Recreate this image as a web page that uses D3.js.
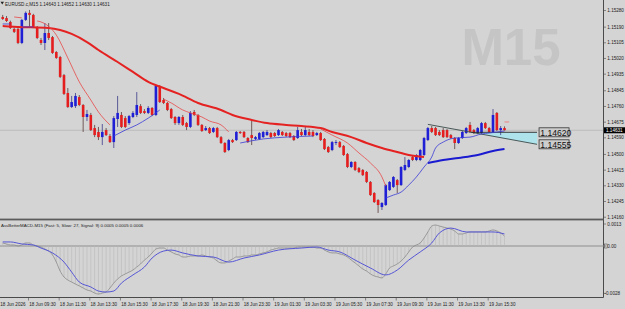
<!DOCTYPE html>
<html><head><meta charset="utf-8">
<script src="https://cdn.jsdelivr.net/npm/d3@7"></script>
<style>html,body{margin:0;padding:0;background:#d4d4d4;overflow:hidden}svg{display:block}</style>
</head><body><svg id="c" width="625" height="309"></svg>
<script>
// ---------- DATA ----------
const symbolTitle = "EURUSD.c,M15";
const headerOHLC = ["1.14643","1.14652","1.14630","1.14631"];
const indicatorTitle = "AssBetterMACD-M15 (Fast: 5, Slow: 27, Signal: 9) 0.0005 0.0005 0.0006";
const watermark = "M15";
const bidPrice = 1.14631;
const askPrice = 1.14676;

const opens = [1.15245,1.15239,1.15218,1.15180,1.15180,1.15104,1.15229,1.15267,1.15256,1.15191,
1.15120,1.15104,1.15158,1.15136,1.15055,1.15028,1.14930,1.14833,1.14757,1.14762,
1.14811,1.14768,1.14703,1.14714,1.14643,1.14622,1.14594,1.14632,1.14600,1.14567,
1.14692,1.14714,1.14697,1.14670,1.14703,1.14714,1.14762,1.14735,1.14725,1.14752,
1.14714,1.14871,1.14795,1.14779,1.14746,1.14703,1.14670,1.14703,1.14670,1.14649,
1.14730,1.14714,1.14660,1.14632,1.14643,1.14622,1.14643,1.14594,1.14562,1.14524,
1.14578,1.14578,1.14622,1.14622,1.14589,1.14605,1.14584,1.14584,1.14594,1.14605,
1.14616,1.14616,1.14605,1.14622,1.14616,1.14616,1.14600,1.14589,1.14622,1.14605,
1.14622,1.14622,1.14605,1.14616,1.14584,1.14540,1.14524,1.14562,1.14567,1.14546,
1.14502,1.14432,1.14459,1.14426,1.14416,1.14405,1.14351,1.14291,1.14253,1.14215,
1.14226,1.14307,1.14324,1.14361,1.14334,1.14416,1.14432,1.14486,1.14470,1.14470,
1.14497,1.14578,1.14643,1.14643,1.14622,1.14632,1.14632,1.14605,1.14589,1.14562,
1.14589,1.14616,1.14660,1.14632,1.14616,1.14616,1.14670,1.14643,1.14622,1.14725,
1.14632,1.14643];
const highs = [1.15256,1.15250,1.15225,1.15190,1.15185,1.15234,1.15275,1.15283,1.15262,1.15196,
1.15131,1.15212,1.15212,1.15142,1.15060,1.15034,1.14936,1.14860,1.14817,1.14833,
1.14822,1.14773,1.14741,1.14725,1.14660,1.14649,1.14665,1.14643,1.14611,1.14708,
1.14817,1.14730,1.14708,1.14714,1.14735,1.14838,1.14773,1.14746,1.14762,1.14757,
1.14876,1.14876,1.14806,1.14784,1.14752,1.14708,1.14708,1.14714,1.14676,1.14735,
1.14741,1.14719,1.14665,1.14654,1.14649,1.14649,1.14649,1.14600,1.14567,1.14584,
1.14584,1.14627,1.14627,1.14627,1.14594,1.14687,1.14600,1.14622,1.14627,1.14632,
1.14622,1.14622,1.14638,1.14627,1.14622,1.14622,1.14605,1.14649,1.14638,1.14649,
1.14638,1.14632,1.14622,1.14622,1.14589,1.14546,1.14573,1.14578,1.14573,1.14551,
1.14508,1.14464,1.14464,1.14432,1.14421,1.14410,1.14356,1.14296,1.14258,1.14242,
1.14340,1.14356,1.14383,1.14367,1.14437,1.14486,1.14475,1.14492,1.14502,1.14530,
1.14595,1.14649,1.14654,1.14649,1.14632,1.14643,1.14638,1.14611,1.14594,1.14594,
1.14627,1.14649,1.14676,1.14638,1.14649,1.14676,1.14676,1.14649,1.14746,1.14730,
1.14654,1.14652];
const lows = [1.15229,1.15218,1.15180,1.15158,1.15098,1.15098,1.15223,1.15191,1.15185,1.15125,
1.15093,1.15066,1.15120,1.15045,1.15018,1.14914,1.14822,1.14752,1.14752,1.14752,
1.14762,1.14622,1.14681,1.14627,1.14594,1.14578,1.14551,1.14600,1.14562,1.14535,
1.14649,1.14643,1.14643,1.14660,1.14697,1.14703,1.14719,1.14719,1.14719,1.14708,
1.14708,1.14779,1.14773,1.14735,1.14692,1.14660,1.14660,1.14654,1.14632,1.14643,
1.14708,1.14654,1.14622,1.14627,1.14611,1.14616,1.14589,1.14557,1.14508,1.14518,
1.14562,1.14573,1.14611,1.14589,1.14562,1.14551,1.14578,1.14578,1.14589,1.14600,
1.14589,1.14594,1.14600,1.14600,1.14594,1.14589,1.14573,1.14584,1.14600,1.14600,
1.14600,1.14594,1.14600,1.14573,1.14524,1.14508,1.14518,1.14551,1.14535,1.14492,
1.14426,1.14426,1.14410,1.14399,1.14383,1.14345,1.14275,1.14237,1.14183,1.14199,
1.14221,1.14302,1.14318,1.14291,1.14329,1.14410,1.14426,1.14464,1.14464,1.14464,
1.14492,1.14573,1.14616,1.14600,1.14600,1.14589,1.14589,1.14584,1.14529,1.14557,
1.14584,1.14611,1.14616,1.14611,1.14611,1.14611,1.14638,1.14616,1.14616,1.14627,
1.14605,1.14630];
const closes = [1.15234,1.15223,1.15185,1.15164,1.15104,1.15229,1.15267,1.15256,1.15191,1.15131,
1.15104,1.15158,1.15131,1.15050,1.15023,1.14920,1.14828,1.14757,1.14784,1.14817,
1.14768,1.14703,1.14719,1.14632,1.14605,1.14594,1.14622,1.14605,1.14567,1.14697,
1.14725,1.14649,1.14649,1.14708,1.14725,1.14768,1.14725,1.14725,1.14752,1.14714,
1.14871,1.14784,1.14779,1.14741,1.14697,1.14670,1.14703,1.14660,1.14649,1.14725,
1.14714,1.14660,1.14627,1.14643,1.14616,1.14643,1.14594,1.14562,1.14513,1.14578,
1.14567,1.14622,1.14616,1.14594,1.14567,1.14589,1.14594,1.14616,1.14622,1.14622,
1.14594,1.14600,1.14632,1.14605,1.14600,1.14594,1.14578,1.14632,1.14605,1.14632,
1.14605,1.14600,1.14616,1.14578,1.14529,1.14513,1.14567,1.14567,1.14540,1.14497,
1.14432,1.14459,1.14416,1.14405,1.14388,1.14351,1.14280,1.14242,1.14226,1.14237,
1.14334,1.14351,1.14378,1.14334,1.14432,1.14443,1.14470,1.14470,1.14497,1.14524,
1.14589,1.14643,1.14622,1.14605,1.14605,1.14594,1.14594,1.14589,1.14562,1.14589,
1.14622,1.14643,1.14622,1.14616,1.14643,1.14670,1.14643,1.14622,1.14714,1.14632,
1.14643,1.14631];

// slow trailing line [barIndex, price, trend(1 up / -1 down)]
const slowLine = [[0,1.15196,-1],[4,1.15191,-1],[12,1.15185,-1],[15,1.15174,-1],[18,1.15153,-1],[22,1.15109,-1],
[25,1.15066,-1],[30,1.15001,-1],[34,1.14947,-1],[38,1.14893,-1],[42,1.14860,-1],[46,1.14828,-1],[51,1.14779,-1],
[57,1.14741,-1],[60,1.14714,-1],[65,1.14687,-1],[69,1.14670,-1],[74,1.14660,-1],[78,1.14654,-1],[83,1.14643,-1],
[86,1.14622,-1],[91,1.14594,-1],[95,1.14562,-1],[99,1.14535,-1],[104,1.14508,-1],[106,1.14497,-1],[110,1.14486,-1],
[111,1.14454,1],[115,1.14470,1],[119,1.14481,1],[124,1.14497,1],[128,1.14519,1],[131,1.14529,1]];

// fast trailing line [barIndex, price, trend]
const fastLine = [[0,1.15207,1],[2,1.15207,1],
[3,1.15245,-1],[5,1.15240,-1],
[5,1.15191,1],[8,1.15191,1],
[9,1.15223,-1],[10,1.15218,-1],[14,1.15147,-1],[17,1.15023,-1],[20,1.14893,-1],[23,1.14795,-1],[25,1.14730,-1],[28,1.14660,-1],
[29,1.14600,1],[32,1.14632,1],[35,1.14660,1],[38,1.14697,1],[40,1.14725,1],[41,1.14741,1],
[42,1.14800,-1],[44,1.14779,-1],[47,1.14741,-1],[49,1.14725,-1],[52,1.14703,-1],[54,1.14681,-1],[57,1.14660,-1],[59,1.14622,-1],
[62,1.14562,1],[68,1.14584,1],[74,1.14594,1],[81,1.14600,1],
[83,1.14638,-1],[86,1.14605,-1],[90,1.14562,-1],[93,1.14508,-1],[96,1.14454,-1],[99,1.14378,-1],[100,1.14329,-1],
[100,1.14264,1],[102,1.14280,1],[104,1.14296,1],[106,1.14334,1],[108,1.14378,1],[110,1.14432,1],[112,1.14486,1],
[113,1.14535,1],[115,1.14567,1],[118,1.14589,1],[122,1.14594,1],[125,1.14611,1],[127,1.14616,1],[131,1.14627,1]];

// drawn objects
const trendLine = [[111,1.14663],[139.5,1.14555]];
const levelLine = [[122.3,1.14620],[139.5,1.14620]];
const levelLabels = ["1.14620","1.14555"];

// MACD panel
const macd = [0.00018,0.00012,0.00006,0.00006,0,0.00006,0.00018,0.00018,0.00006,0,
-0.00006,-0.00018,-0.00030,-0.00053,-0.00095,-0.00148,-0.00183,-0.00201,-0.00213,-0.00225,
-0.00236,-0.00248,-0.00260,-0.00266,-0.00278,-0.00284,-0.00278,-0.00272,-0.00248,-0.00219,
-0.00195,-0.00177,-0.00165,-0.00154,-0.00142,-0.00124,-0.00106,-0.00083,-0.00065,-0.00041,
-0.00018,-0.00012,-0.00012,-0.00024,-0.00035,-0.00047,-0.00053,-0.00065,-0.00065,-0.00059,
-0.00059,-0.00059,-0.00053,-0.00059,-0.00065,-0.00071,-0.00089,-0.00100,-0.00100,-0.00089,
-0.00077,-0.00065,-0.00065,-0.00059,-0.00059,-0.00053,-0.00053,-0.00047,-0.00041,-0.00035,
-0.00024,-0.00018,-0.00012,-0.00012,-0.00012,-0.00012,-0.00012,-0.00006,-0.00006,-0.00006,
-0.00006,-0.00006,-0.00012,-0.00012,-0.00024,-0.00035,-0.00041,-0.00041,-0.00047,-0.00053,
-0.00065,-0.00083,-0.00100,-0.00118,-0.00136,-0.00148,-0.00165,-0.00177,-0.00183,-0.00189,
-0.00165,-0.00130,-0.00118,-0.00106,-0.00089,-0.00065,-0.00035,-0.00006,0.00006,0.00018,
0.00047,0.00083,0.00118,0.00124,0.00118,0.00112,0.00106,0.00100,0.00089,0.00071,
0.00071,0.00077,0.00083,0.00083,0.00083,0.00083,0.00083,0.00089,0.00095,0.00089,
0.00077,0.00059];
const signalIdx = [0,2,5,8,10,13,16,18,20,23,25,27,29,31,34,37,39,42,44,47,51,55,59,63,67,72,78,82,85,88,92,96,100,103,106,109,112,114,117,121,125,128,131];
const signalVal = [0.00024,0.00024,0.00012,0.00006,-0.00012,-0.00041,-0.00095,-0.00154,-0.00213,-0.00242,-0.00266,-0.00272,-0.00266,
-0.00219,-0.00171,-0.00124,-0.00071,-0.00030,-0.00024,-0.00041,-0.00059,-0.00065,-0.00095,-0.00071,-0.00053,-0.00024,-0.00012,
-0.00006,-0.00024,-0.00035,-0.00083,-0.00130,-0.00171,-0.00142,-0.00083,-0.00035,0.00018,0.00077,0.00106,0.00083,0.00083,0.00083,0.00071];

const priceTicks = [1.15280,1.15190,1.15105,1.15020,1.14935,1.14845,1.14760,1.14675,1.14590,1.14500,1.14415,1.14330,1.14245,1.14160];
const macdTicks = [0.0013,0,-0.0028];
const macdTickLabels = ["0.0013","0.00","-0.0028"];
const timeTickIdx = [7,15,23,31,39,47,55,63,71,79,87,95,103,111,119,127];
const timeTickLabels = ["18 Jun 09:30","18 Jun 11:30","18 Jun 13:30","18 Jun 15:30","18 Jun 17:30","18 Jun 19:30","18 Jun 21:30","18 Jun 23:30",
"19 Jun 01:30","19 Jun 03:30","19 Jun 05:30","19 Jun 07:30","19 Jun 09:30","19 Jun 11:30","19 Jun 13:30","19 Jun 15:30"];
const firstDateLabel = "18 Jun 2026";

// ---------- DRAW ----------
const svg = d3.select("#c");
const F = "'Liberation Sans', Arial, sans-serif";
const BG = "#d4d4d4", AXIS = "#4a4a4a";
const bull = "#1f1fd6", bear = "#e41e1e";
const plotR = 603.5;

const x = d3.scaleLinear().domain([0,131]).range([2.7,504.5]);
const y = d3.scaleLinear().domain([1.14160,1.15280]).range([217.2,10.5]);
const ym = d3.scaleLinear().domain([-0.0028,0.0013]).range([293.4,224.0]);

svg.append("rect").attr("width",625).attr("height",309).attr("fill",BG);

// watermark
svg.append("text").attr("x",511).attr("y",65).attr("text-anchor","middle")
  .attr("font-family",F).attr("font-weight","bold").attr("font-size",51)
  .attr("fill","#c5c5c5").text(watermark);

const main = svg.append("g");
// bid line
main.append("line").attr("x1",0).attr("x2",plotR).attr("y1",y(bidPrice)).attr("y2",y(bidPrice))
  .attr("stroke","#b6b6b6").attr("stroke-width",0.8);

// cyan area between level and trend line
const slope = (trendLine[1][1]-trendLine[0][1])/(trendLine[1][0]-trendLine[0][0]);
const trendAt = i => trendLine[0][1] + slope*(i-trendLine[0][0]);
const iA = levelLine[0][0], iB = levelLine[1][0];
main.append("path").attr("fill","#aee3ec").attr("stroke","none")
  .attr("d", d3.line()([[x(iA),y(levelLine[0][1])],[x(iB),y(levelLine[1][1])],[x(iB),y(trendAt(iB))],[x(iA),y(trendAt(iA))]]));

// candles
const idx = d3.range(opens.length);
const cg = main.append("g");
cg.selectAll("line.w").data(idx).join("line")
  .attr("x1",i=>x(i)).attr("x2",i=>x(i)).attr("y1",i=>y(highs[i])).attr("y2",i=>y(lows[i]))
  .attr("stroke",i=>closes[i]>=opens[i]?"#3a3a8a":"#5a3a3a").attr("stroke-width",0.8);
cg.selectAll("rect.b").data(idx).join("rect")
  .attr("x",i=>x(i)-1.3).attr("width",2.6)
  .attr("y",i=>y(Math.max(opens[i],closes[i])))
  .attr("height",i=>Math.max(0.9, Math.abs(y(opens[i])-y(closes[i]))))
  .attr("fill",i=>closes[i]>=opens[i]?bull:bear);

// trend & level lines
main.append("line").attr("x1",x(trendLine[0][0])).attr("y1",y(trendLine[0][1]))
  .attr("x2",x(trendLine[1][0])).attr("y2",y(trendLine[1][1])).attr("stroke","#3a4a4a").attr("stroke-width",0.9);
main.append("line").attr("x1",x(iA)).attr("y1",y(levelLine[0][1]))
  .attr("x2",x(iB)).attr("y2",y(levelLine[1][1])).attr("stroke","#2a2a2a").attr("stroke-width",0.9);

// segmented trailing lines
function segments(arr){
  const segs=[]; let cur=null;
  arr.forEach(p=>{ if(!cur||cur.dir!==p[2]){cur={dir:p[2],pts:[]};segs.push(cur);} cur.pts.push(p); });
  return segs;
}
const lineGen = d3.line().x(p=>x(p[0])).y(p=>y(p[1])).curve(d3.curveMonotoneX);
segments(slowLine).forEach(s=>{
  main.append("path").attr("d",lineGen(s.pts)).attr("fill","none")
    .attr("stroke",s.dir>0?"#1a1ad0":"#e52222").attr("stroke-width",2);
});
segments(fastLine).forEach(s=>{
  main.append("path").attr("d",lineGen(s.pts)).attr("fill","none")
    .attr("stroke",s.dir>0?"#3a3ad8":"#e84848").attr("stroke-width",0.8);
});

// ask mark
main.append("line").attr("x1",x(131)).attr("x2",x(132.2)).attr("y1",y(askPrice)).attr("y2",y(askPrice))
  .attr("stroke","#f07070").attr("stroke-width",0.8);

// level labels
[[iB,levelLine[1][1],levelLabels[0]],[iB,trendLine[1][1],levelLabels[1]]].forEach(d=>{
  const bx = x(d[0])+2, by = y(d[1]);
  svg.append("rect").attr("x",bx).attr("y",by-4.5).attr("width",30).attr("height",9)
    .attr("fill","#cdcdcd").attr("stroke","#333").attr("stroke-width",0.8);
  svg.append("text").attr("x",bx+1.2).attr("y",by+3.2).attr("font-family",F).attr("font-size",8.6)
    .attr("fill","#111").text(d[2]);
});

// header
svg.append("path").attr("d","M0.5,1.8 L4,1.8 L2.25,4.6 Z").attr("fill","#222");
svg.append("text").attr("x",5).attr("y",5.6).attr("font-family",F).attr("font-size",4.6).attr("fill","#222")
  .text(symbolTitle+"  "+headerOHLC.join(" "));

// price axis
svg.append("line").attr("x1",plotR).attr("x2",plotR).attr("y1",0).attr("y2",297.5).attr("stroke",AXIS).attr("stroke-width",1);
const pa = svg.append("g");
priceTicks.forEach(p=>{
  pa.append("line").attr("x1",plotR).attr("x2",plotR+2.5).attr("y1",y(p)).attr("y2",y(p)).attr("stroke",AXIS).attr("stroke-width",0.6);
  pa.append("text").attr("x",607.3).attr("y",y(p)+1.6).attr("font-family",F).attr("font-size",4.6).attr("fill","#222").text(p.toFixed(5));
});
// current price label
svg.append("rect").attr("x",604).attr("y",y(bidPrice)-3).attr("width",21).attr("height",6).attr("fill","#000");
svg.append("text").attr("x",606).attr("y",y(bidPrice)+1.6).attr("font-family",F).attr("font-size",4.6).attr("fill","#fff").text(bidPrice.toFixed(5));

// panel separator
svg.append("rect").attr("x",0).attr("y",218.6).attr("width",plotR).attr("height",1.8).attr("fill","#5c5c5c");

// MACD panel
const mg = svg.append("g");
mg.append("text").attr("x",1).attr("y",226.6).attr("font-family",F).attr("font-size",4.4).attr("fill","#222").text(indicatorTitle);
mg.append("line").attr("x1",0).attr("x2",plotR).attr("y1",ym(0)).attr("y2",ym(0)).attr("stroke","#a6a6a6").attr("stroke-width",1.6);
mg.selectAll("line.h").data(idx).join("line")
  .attr("x1",i=>x(i)).attr("x2",i=>x(i)).attr("y1",ym(0)).attr("y2",i=>ym(macd[i]))
  .attr("stroke","#b9b9b9").attr("stroke-width",0.6);
mg.append("path").attr("fill","none").attr("stroke","#8a8a8a").attr("stroke-width",0.8)
  .attr("d", d3.line().x((v,i)=>x(i)).y(v=>ym(v)).curve(d3.curveMonotoneX)(macd));
mg.append("path").attr("fill","none").attr("stroke","#5656d6").attr("stroke-width",1)
  .attr("d", d3.line().x((v,k)=>x(signalIdx[k])).y(v=>ym(v)).curve(d3.curveMonotoneX)(signalVal));
macdTicks.forEach((v,k)=>{
  mg.append("line").attr("x1",plotR).attr("x2",plotR+2.5).attr("y1",ym(v)).attr("y2",ym(v)).attr("stroke",AXIS).attr("stroke-width",0.6);
  mg.append("text").attr("x",k===2?604.5:607.3).attr("y",ym(v)+1.6).attr("font-family",F).attr("font-size",4.6).attr("fill","#222").text(macdTickLabels[k]);
});
mg.append("rect").attr("x",604.5).attr("y",ym(0)-2).attr("width",2.6).attr("height",4).attr("fill","none").attr("stroke","#444").attr("stroke-width",0.5);

// time axis
svg.append("line").attr("x1",0).attr("x2",plotR).attr("y1",297.5).attr("y2",297.5).attr("stroke",AXIS).attr("stroke-width",1);
const ta = svg.append("g");
timeTickIdx.forEach((i,k)=>{
  ta.append("line").attr("x1",x(i)-1).attr("x2",x(i)-1).attr("y1",297.5).attr("y2",300.5).attr("stroke",AXIS).attr("stroke-width",0.6);
  ta.append("text").attr("x",x(i)-0.3).attr("y",305.6).attr("font-family",F).attr("font-size",4.6).attr("fill","#222").text(timeTickLabels[k]);
});
ta.append("text").attr("x",0.3).attr("y",305.6).attr("font-family",F).attr("font-size",4.6).attr("fill","#222").text(firstDateLabel);
</script></body></html>
